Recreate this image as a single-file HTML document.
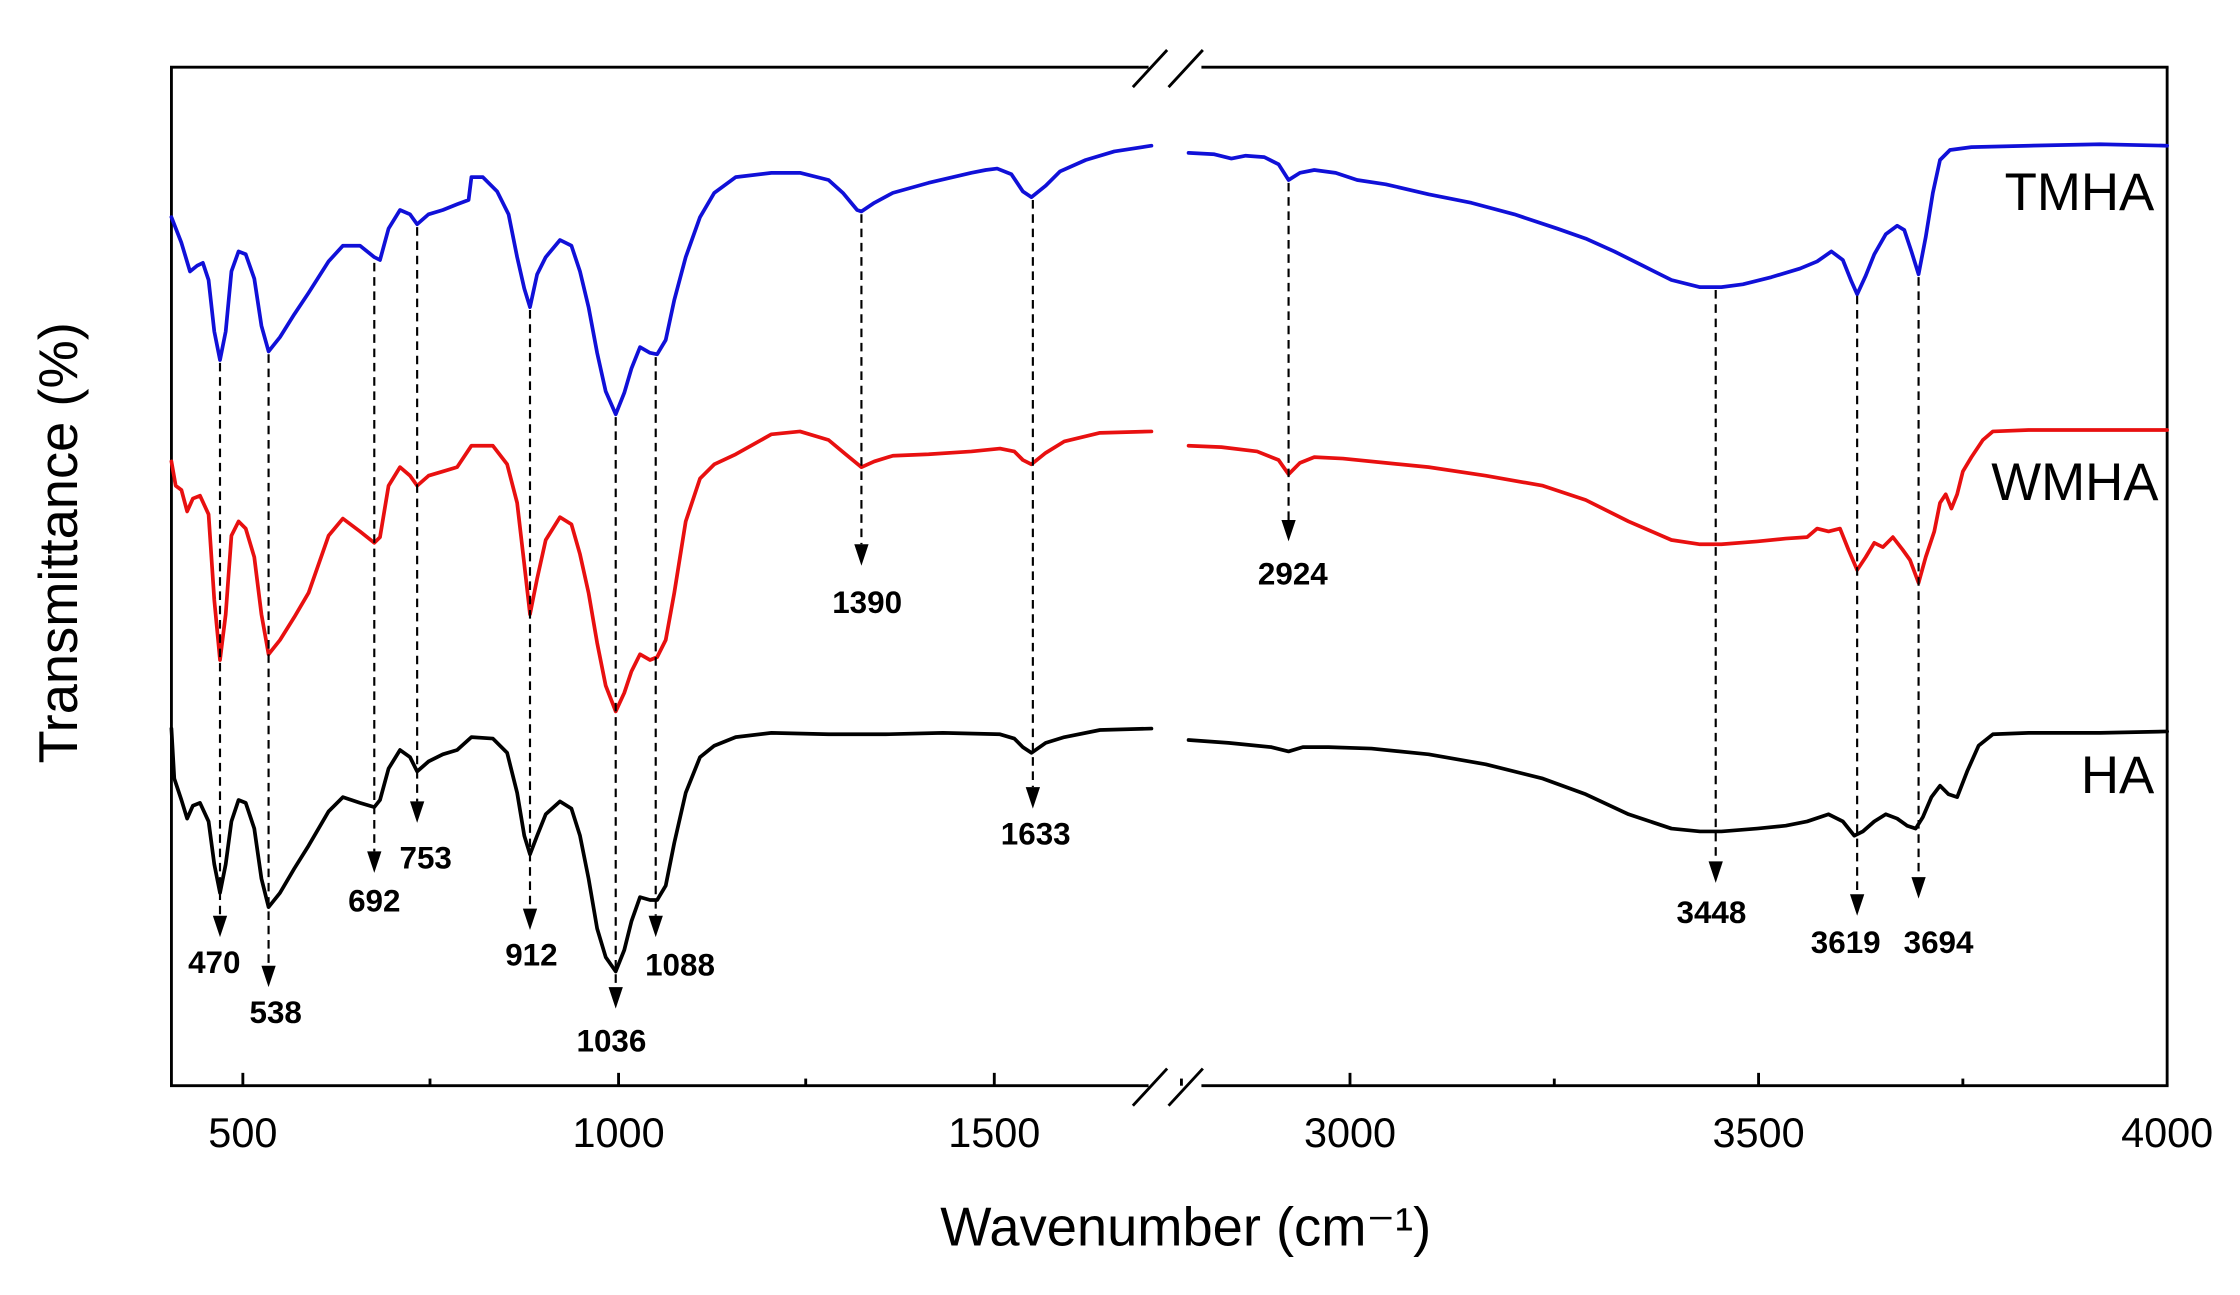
<!DOCTYPE html>
<html><head><meta charset="utf-8"><style>
html,body{margin:0;padding:0;background:#fff;}
svg{display:block;}
</style></head><body>
<svg width="2240" height="1295" viewBox="0 0 1568 906.5" preserveAspectRatio="none" xmlns="http://www.w3.org/2000/svg" font-family="Liberation Sans, Arial, sans-serif">
<g stroke="#000" stroke-width="2" fill="none">
<line x1="120" y1="47" x2="120" y2="760"/>
<line x1="1517" y1="47" x2="1517" y2="760"/>
<line x1="119" y1="47" x2="804" y2="47"/>
<line x1="841" y1="47" x2="1518" y2="47"/>
<line x1="119" y1="760" x2="804" y2="760"/>
<line x1="841" y1="760" x2="1518" y2="760"/>
<line x1="793" y1="61" x2="817" y2="35"/>
<line x1="818" y1="61" x2="842" y2="35"/>
<line x1="793" y1="774" x2="817" y2="748"/>
<line x1="818" y1="774" x2="842" y2="748"/>
<line x1="170" y1="760" x2="170" y2="751"/><line x1="433" y1="760" x2="433" y2="751"/><line x1="696" y1="760" x2="696" y2="751"/>
<line x1="301" y1="760" x2="301" y2="755"/><line x1="564" y1="760" x2="564" y2="755"/><line x1="827" y1="760" x2="827" y2="755"/>
<line x1="945" y1="760" x2="945" y2="751"/><line x1="1231" y1="760" x2="1231" y2="751"/>
<line x1="1088" y1="760" x2="1088" y2="755"/><line x1="1374" y1="760" x2="1374" y2="755"/>
</g>
<g font-size="29" text-anchor="middle" fill="#000">
<text x="170" y="803">500</text><text x="433" y="803">1000</text><text x="696" y="803">1500</text>
<text x="945" y="803">3000</text><text x="1231" y="803">3500</text><text x="1517" y="803">4000</text>
</g>
<text x="830" y="872" font-size="38" text-anchor="middle">Wavenumber (cm⁻¹)</text>
<text transform="translate(54,380) rotate(-90)" font-size="38" text-anchor="middle">Transmittance (%)</text>
<g fill="none" stroke-width="2.6" stroke-linejoin="round" stroke-linecap="round">
<polyline stroke="#1010d8" points="120,152 127,170 133,190 138,186 142,184 146,196 150,232 154,252 158,232 162,190 167,176 172,178 178,195 183,228 188,246 196,236 206,220 216,205 230,183 240,172 252,172 262,180 266,182 272,160 280,147 287,150 292,157 300,150 310,147 320,143 328,140 330,124 338,124 348,134 356,150 362,180 367,202 371,215 376,192 382,180 392,168 400,172 406,190 412,215 418,247 424,274 431,290 437,275 442,258 448,243 455,247 460,248 466,238 472,210 480,180 490,152 500,135 515,124 540,121 560,121 580,126 590,135 600,147 603,148 612,142 625,135 650,128 680,121 690,119 698,118 708,122 716,134 722,138 732,130 742,120 760,112 780,106 806,102"/>
<polyline stroke="#1010d8" points="832,107 850,108 862,111 872,109 885,110 895,115 902,126 910,121 920,119 935,121 950,126 970,129 1000,136 1030,142 1060,150 1090,160 1110,167 1130,176 1150,186 1170,196 1190,201 1205,201 1220,199 1240,194 1260,188 1272,183 1282,176 1290,182 1296,197 1300,206 1306,193 1312,178 1320,164 1328,158 1333,161 1338,176 1343,192 1348,166 1353,135 1358,112 1365,105 1380,103 1420,102 1470,101 1517,102"/>
<polyline stroke="#e81010" points="120,323 123,340 127,343 131,358 135,349 140,347 146,360 150,420 154,462 158,430 162,375 167,365 172,370 178,390 183,430 188,458 196,448 206,432 216,415 230,375 240,363 252,372 262,380 266,376 272,340 280,327 287,333 292,340 300,333 310,330 320,327 330,312 345,312 355,325 362,352 367,395 371,430 376,405 382,378 392,362 400,367 406,388 412,415 418,450 424,480 431,498 437,485 442,470 448,458 455,462 460,460 466,448 472,415 480,365 490,335 500,325 515,318 540,304 560,302 580,308 592,318 603,327 612,323 625,319 650,318 680,316 700,314 710,316 716,322 722,325 732,317 745,309 770,303 806,302"/>
<polyline stroke="#e81010" points="832,312 855,313 880,316 895,322 902,332 910,324 920,320 940,321 970,324 1000,327 1040,333 1080,340 1110,350 1140,365 1170,378 1190,381 1205,381 1230,379 1250,377 1265,376 1272,370 1280,372 1288,370 1294,385 1300,399 1306,390 1312,380 1318,383 1325,376 1332,385 1337,392 1343,408 1348,390 1354,372 1358,352 1362,346 1366,356 1370,346 1374,330 1380,320 1388,308 1395,302 1420,301 1470,301 1517,301"/>
<polyline stroke="#000" points="120,510 122,545 127,560 131,573 135,564 140,562 146,575 150,605 154,625 158,605 162,575 167,560 172,562 178,580 183,615 188,635 196,625 206,608 216,592 230,568 240,558 252,562 262,565 266,560 272,538 280,525 287,530 292,540 300,533 310,528 320,525 330,516 345,517 355,527 362,555 367,585 371,598 376,585 382,570 392,561 400,566 406,585 412,615 418,650 424,670 431,680 437,665 442,645 448,628 455,630 460,630 466,620 472,590 480,555 490,530 500,522 515,516 540,513 580,514 620,514 660,513 700,514 710,517 716,523 722,527 732,520 745,516 770,511 806,510"/>
<polyline stroke="#000" points="832,518 860,520 890,523 902,526 912,523 930,523 960,524 1000,528 1040,535 1080,545 1110,556 1140,570 1170,580 1190,582 1205,582 1230,580 1250,578 1265,575 1280,570 1290,575 1298,585 1304,582 1312,575 1320,570 1328,573 1335,578 1341,580 1346,572 1352,558 1358,550 1364,556 1370,558 1377,540 1385,522 1395,514 1420,513 1470,513 1517,512"/>
</g>
<g stroke="#000" stroke-width="1.5" stroke-dasharray="6,4">
<line x1="154" y1="254" x2="154" y2="641"/>
<line x1="188" y1="248" x2="188" y2="676"/>
<line x1="262" y1="184" x2="262" y2="596"/>
<line x1="292" y1="159" x2="292" y2="561"/>
<line x1="371" y1="217" x2="371" y2="636"/>
<line x1="431" y1="292" x2="431" y2="691"/>
<line x1="459" y1="250" x2="459" y2="641"/>
<line x1="603" y1="150" x2="603" y2="381"/>
<line x1="723" y1="140" x2="723" y2="551"/>
<line x1="902" y1="128" x2="902" y2="364"/>
<line x1="1201" y1="203" x2="1201" y2="603"/>
<line x1="1300" y1="207" x2="1300" y2="626"/>
<line x1="1343" y1="194" x2="1343" y2="614"/>
</g>
<g fill="#000">
<polygon points="149,641 159,641 154,656"/>
<polygon points="183,676 193,676 188,691"/>
<polygon points="257,596 267,596 262,611"/>
<polygon points="287,561 297,561 292,576"/>
<polygon points="366,636 376,636 371,651"/>
<polygon points="426,691 436,691 431,706"/>
<polygon points="454,641 464,641 459,656"/>
<polygon points="598,381 608,381 603,396"/>
<polygon points="718,551 728,551 723,566"/>
<polygon points="897,364 907,364 902,379"/>
<polygon points="1196,603 1206,603 1201,618"/>
<polygon points="1295,626 1305,626 1300,641"/>
<polygon points="1338,614 1348,614 1343,629"/>
</g>
<g font-size="22" font-weight="bold" text-anchor="middle" fill="#000">
<text x="150" y="681">470</text>
<text x="193" y="716">538</text>
<text x="262" y="638">692</text>
<text x="298" y="608">753</text>
<text x="372" y="676">912</text>
<text x="428" y="736">1036</text>
<text x="476" y="683">1088</text>
<text x="607" y="429">1390</text>
<text x="725" y="591">1633</text>
<text x="905" y="409">2924</text>
<text x="1198" y="646">3448</text>
<text x="1292" y="667">3619</text>
<text x="1357" y="667">3694</text>
</g>
<g font-size="37" text-anchor="end" fill="#000">
<text x="1508" y="147">TMHA</text>
<text x="1511" y="350">WMHA</text>
<text x="1508" y="555">HA</text>
</g>
</svg>
</body></html>
